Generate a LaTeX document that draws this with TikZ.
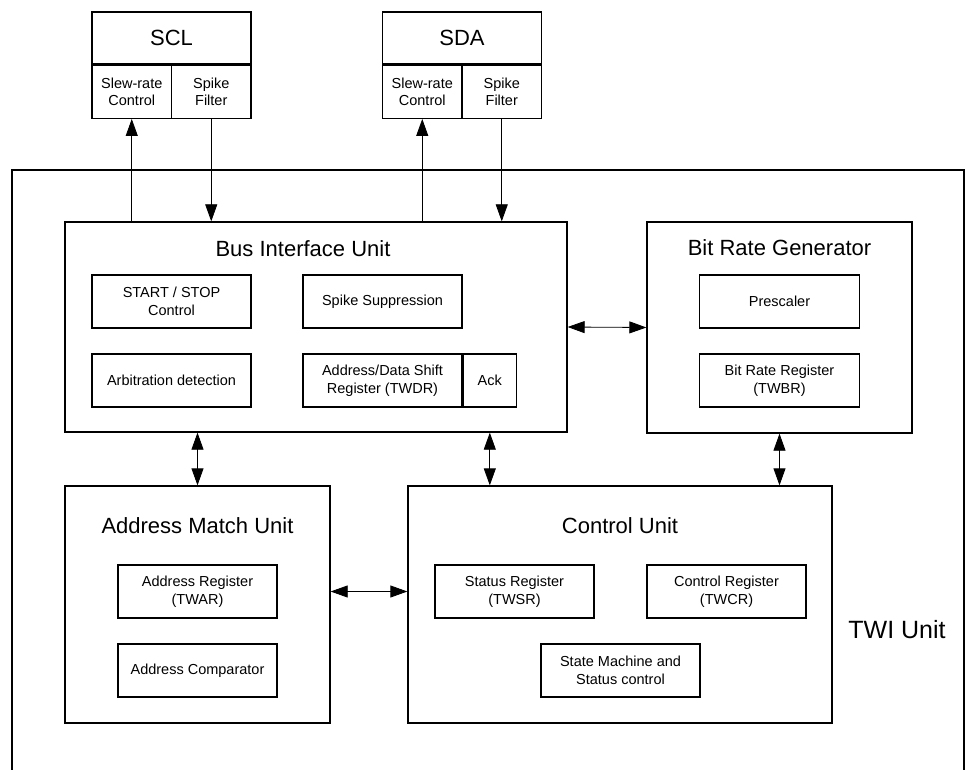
\documentclass[tikz,border=0pt]{standalone}
\usepackage{fontspec}
\setmainfont{Liberation Sans}
\usetikzlibrary{arrows.meta}

\begin{document}
\begin{tikzpicture}[x=1pt,y=-1pt,
  >={Triangle[length=17pt,width=12pt]},
  unit/.style={draw,line width=1.3pt,inner sep=0pt},
  part/.style={draw,line width=1.3pt,inner sep=0pt,minimum width=159pt,minimum height=53pt,align=center,font=\fontsize{14.5}{17.5}\selectfont},
  title/.style={font=\fontsize{22}{26}\selectfont},
  link/.style={line width=0.8pt}]
\useasboundingbox (0,0) rectangle (966,770);
\draw[line width=1.3pt] (12,770) -- (12,170) -- (964,170) -- (964,770);
\node[font=\fontsize{25}{30}\selectfont] (twi) at (897,630) {TWI Unit};

\node[unit,title,minimum width=159pt,minimum height=52pt] (scl) at (171.5,38) {SCL};
\node[part,minimum width=79.5pt,anchor=north west] (sclslew) at (scl.south west) {Slew-rate\\Control};
\node[part,minimum width=79.5pt,anchor=north east] (sclspike) at (scl.south east) {Spike\\Filter};
\node[unit,title,minimum width=159pt,minimum height=52pt] (sda) at (462,38) {SDA};
\node[part,minimum width=79.5pt,anchor=north west] (sdaslew) at (sda.south west) {Slew-rate\\Control};
\node[part,minimum width=79.5pt,anchor=north east] (sdaspike) at (sda.south east) {Spike\\Filter};

\node[unit,minimum width=502pt,minimum height=210pt] (biu) at (316,327) {};
\node[title] (biutitle) at (303,249) {Bus Interface Unit};
\node[part] (startstop) at (171.5,301.5) {START / STOP\\Control};
\node[part] (spikesup) at (382.5,301.5) {Spike Suppression};
\node[part] (arbit) at (171.5,380.5) {Arbitration detection};
\node[part] (shiftreg) at (382.5,380.5) {Address/Data Shift\\Register (TWDR)};
\node[part,minimum width=53pt,anchor=west] (ack) at (shiftreg.east) {Ack};

\node[unit,minimum width=265pt,minimum height=211pt] (brg) at (779.5,327.5) {};
\node[title] (brgtitle) at (779.5,248) {Bit Rate Generator};
\node[part,minimum width=160pt] (prescaler) at (779.5,301.5) {Prescaler};
\node[part,minimum width=160pt] (bitrate) at (779.5,380.5) {Bit Rate Register\\(TWBR)};

\node[unit,minimum width=265pt,minimum height=237pt] (amu) at (197.5,604.5) {};
\node[title] (amutitle) at (197.5,526) {Address Match Unit};
\node[part] (addrreg) at (197.5,591.5) {Address Register\\(TWAR)};
\node[part] (addrcomp) at (197.5,670.5) {Address Comparator};

\node[unit,minimum width=424pt,minimum height=237pt] (cu) at (620,604.5) {};
\node[title] (cutitle) at (620,526) {Control Unit};
\node[part] (statusreg) at (514.5,591.5) {Status Register\\(TWSR)};
\node[part] (controlreg) at (726.5,591.5) {Control Register\\(TWCR)};
\node[part] (statemach) at (620.5,670.5) {State Machine and\\Status control};

\draw[link,->] (biu.north -| sclslew.south) -- (sclslew.south);
\draw[link,->] (sclspike.south) -- (biu.north -| sclspike.south);
\draw[link,->] (biu.north -| sdaslew.south) -- (sdaslew.south);
\draw[link,->] (sdaspike.south) -- (biu.north -| sdaspike.south);
\draw[link,<->] (biu.east) -- (brg.west);
\draw[link,<->] (biu.south -| amu.north) -- (amu.north);
\draw[link,<->] (biu.south -| ack.south) -- (cu.north -| ack.south);
\draw[link,<->] (brg.south) -- (cu.north -| brg.south);
\draw[link,<->] (amu.east |- addrreg.east) -- (cu.west |- addrreg.east);
\end{tikzpicture}
\end{document}
